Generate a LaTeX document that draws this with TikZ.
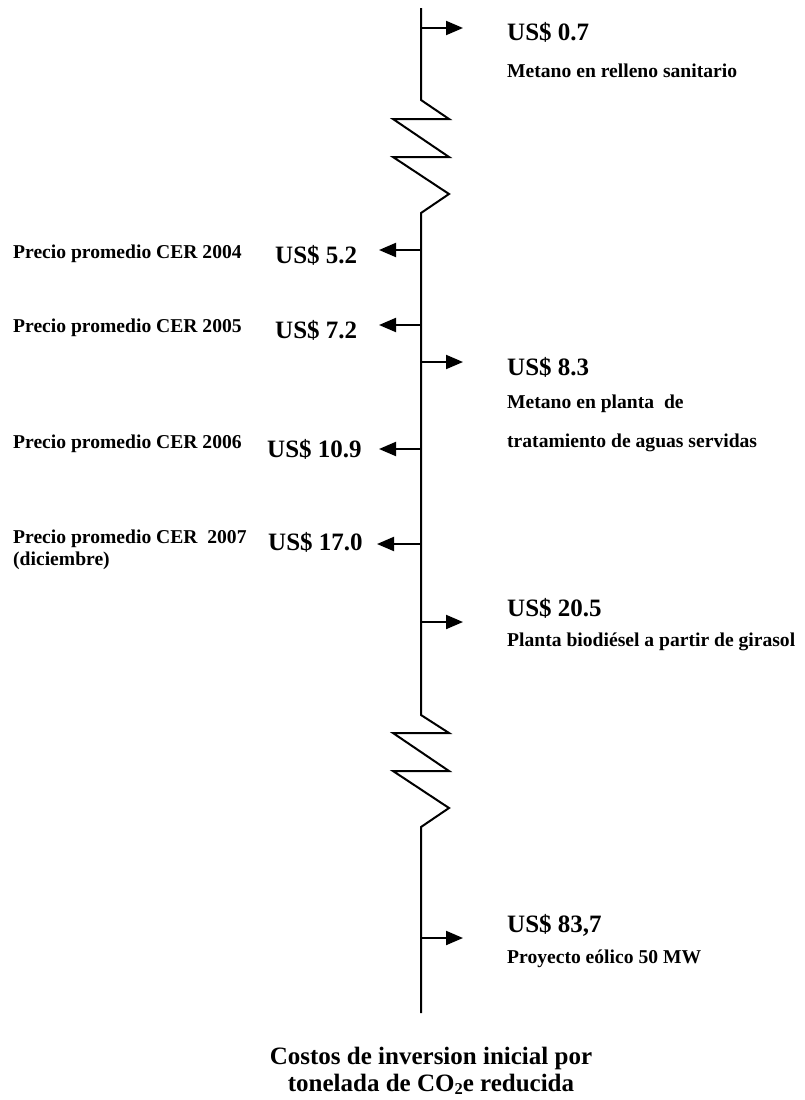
\documentclass[tikz,border=0pt]{standalone}
\usepackage{fontspec}
\setmainfont{Liberation Serif}
\usetikzlibrary{arrows.meta}
\newcommand{\lowtwo}{\raisebox{-0.32ex}{\fontsize{16.5}{16.5}\selectfont 2}}
\begin{document}
\begin{tikzpicture}[x=1pt,y=-1pt,
  axis/.style={line width=2pt,line join=miter},
  tick/.style={line width=2pt,-{Triangle[length=17pt,width=14pt]}},
  big/.style={inner sep=0pt,anchor=base west,font=\fontsize{25}{28}\selectfont\bfseries},
  small/.style={inner sep=0pt,anchor=base west,font=\fontsize{19.6}{23}\selectfont\bfseries},
  title/.style={inner sep=0pt,anchor=base,font=\fontsize{25}{28}\selectfont\bfseries}]
\useasboundingbox (0,0) rectangle (804,1100);
% axis points
\coordinate (top) at (421,8);
\coordinate (a07) at (421,28);
\coordinate (z1a) at (421,100);
\coordinate (z1b) at (421,213);
\coordinate (a52) at (421,250);
\coordinate (a72) at (421,325);
\coordinate (a83) at (421,362);
\coordinate (a109) at (421,449);
\coordinate (a170) at (421,544);
\coordinate (a205) at (421,622);
\coordinate (z2a) at (421,715);
\coordinate (z2b) at (421,827);
\coordinate (a837) at (421,938);
\coordinate (bot) at (421,1013);
% axis with zigzags
\draw[axis] (top) -- (z1a) -- (449,119) -- (393,119) -- (449,157) -- (393,157) -- (449,194) -- (z1b)
  -- (z2a) -- (449,733) -- (393,733) -- (449,771) -- (393,771) -- (449,808) -- (z2b) -- (bot);
% arrow tips
\coordinate (t07) at (463,28);
\coordinate (t83) at (463,362);
\coordinate (t205) at (463,622);
\coordinate (t837) at (463,938);
\coordinate (t52) at (379,250);
\coordinate (t72) at (379,325);
\coordinate (t109) at (379,449);
\coordinate (t170) at (377,544);
\draw[tick] (a07) -- (t07);
\draw[tick] (a83) -- (t83);
\draw[tick] (a205) -- (t205);
\draw[tick] (a837) -- (t837);
\draw[tick] (a52) -- (t52);
\draw[tick] (a72) -- (t72);
\draw[tick] (a109) -- (t109);
\draw[tick] (a170) -- (t170);
% right labels
\node[big] (v07) at (507,40) {US\$ 0.7};
\node[small] (d07) at (507,77) {Metano en relleno sanitario};
\node[big] (v83) at (507,375) {US\$ 8.3};
\node[small] (d83a) at (507,408) {Metano en planta\ \ de};
\node[small] (d83b) at (507,447) {tratamiento de aguas servidas};
\node[big] (v205) at (507,616) {US\$ 20.5};
\node[small] (d205) at (507,646) {Planta biodiésel a partir de girasol};
\node[big] (v837) at (507,932) {US\$ 83,7};
\node[small] (d837) at (507,963) {Proyecto eólico 50 MW};
% left labels
\node[small] (p04) at (13,258) {Precio promedio CER 2004};
\node[big] (v52) at (275,263) {US\$ 5.2};
\node[small] (p05) at (13,332) {Precio promedio CER 2005};
\node[big] (v72) at (275,338) {US\$ 7.2};
\node[small] (p06) at (13,448) {Precio promedio CER 2006};
\node[big] (v109) at (267,457) {US\$ 10.9};
\node[small] (p07) at (13,543) {Precio promedio CER\ \ 2007};
\node[small] (p07b) at (13,565) {(diciembre)};
\node[big] (v170) at (268,550) {US\$ 17.0};
% title
\node[title] (t1) at (431,1064) {Costos de inversion inicial por};
\node[title] (t2) at (431,1091) {tonelada de CO\lowtwo e reducida};
\end{tikzpicture}
\end{document}
